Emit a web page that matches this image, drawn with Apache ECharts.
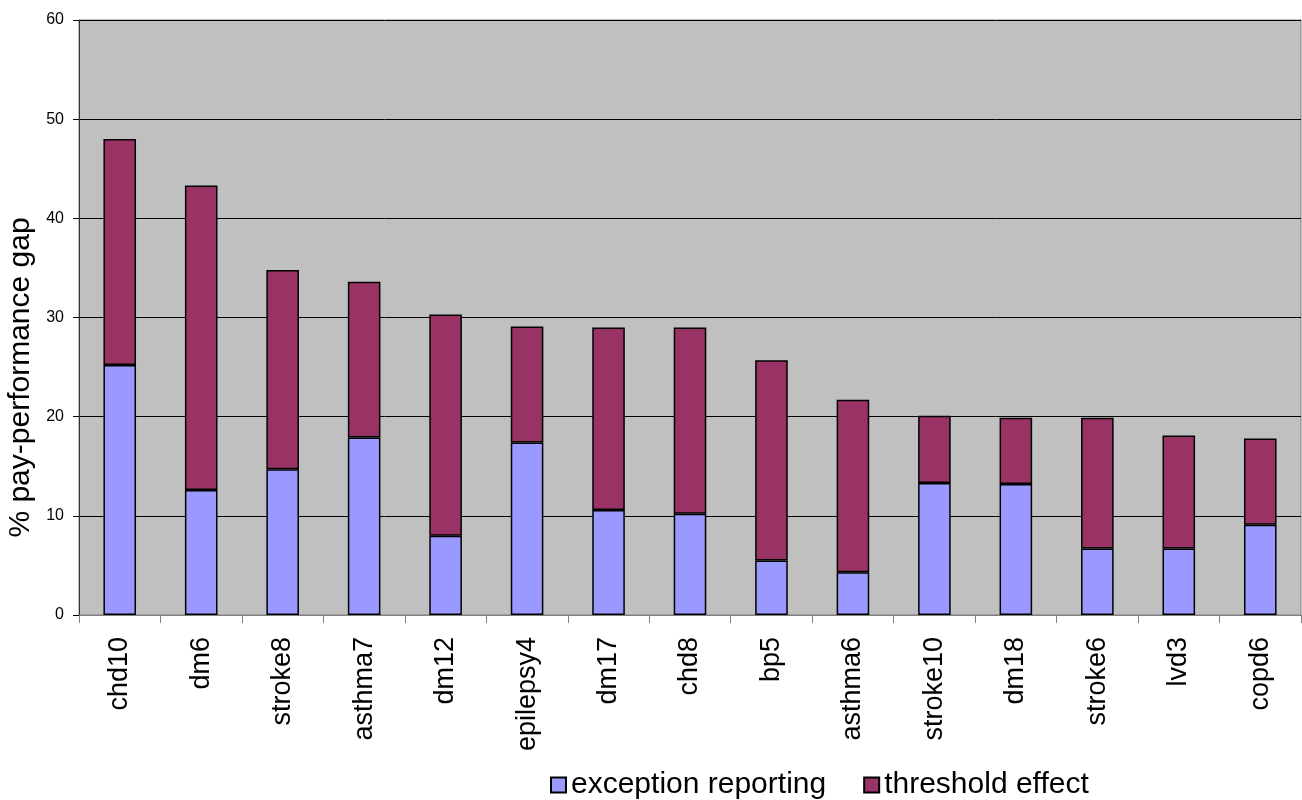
<!DOCTYPE html>
<html>
<head>
<meta charset="utf-8">
<script src="https://cdn.jsdelivr.net/npm/echarts@6/dist/echarts.min.js"></script>
<style>
  html, body { margin: 0; padding: 0; background: #fff; }
  #chart { width: 1302px; height: 800px; }
</style>
</head>
<body>
<div id="chart"></div>
<script>
var categories = ['chd10', 'dm6', 'stroke8', 'asthma7', 'dm12', 'epilepsy4', 'dm17', 'chd8', 'bp5', 'asthma6', 'stroke10', 'dm18', 'stroke6', 'lvd3', 'copd6'];
var exceptionReporting = [25.2, 12.6, 14.7, 17.9, 8.0, 17.4, 10.6, 10.2, 5.5, 4.3, 13.3, 13.2, 6.7, 6.7, 9.1];
var thresholdEffect = [22.8, 30.7, 20.1, 15.7, 22.3, 11.7, 18.4, 18.8, 20.2, 17.4, 6.8, 6.7, 13.2, 11.4, 8.7];
var yTicks = { min: 0, max: 60, interval: 10 };

var chart = echarts.init(document.getElementById('chart'));
var font = 'Liberation Sans, Arial, sans-serif';

var option = {
  backgroundColor: '#fff',
  animation: false,
  grid: {
    left: 79, right: 1, top: 20, bottom: 185,
    containLabel: false,
    outerBoundsMode: 'none',
    show: true,
    backgroundColor: '#c0c0c0',
    borderColor: '#808080',
    borderWidth: 1
  },
  legend: {
    top: 765,
    left: 545,
    icon: 'rect',
    itemWidth: 15,
    itemHeight: 15,
    itemGap: 37,
    textStyle: { fontSize: 30, color: '#000', fontFamily: font },
    data: ['exception reporting', 'threshold effect']
  },
  xAxis: {
    type: 'category',
    data: categories,
    axisLine: { lineStyle: { color: '#808080' } },
    axisTick: { show: true, length: 8, lineStyle: { color: '#808080' } },
    axisLabel: { rotate: 90, fontSize: 27, color: '#000', fontFamily: font, margin: 22 }
  },
  yAxis: {
    type: 'value',
    min: yTicks.min, max: yTicks.max, interval: yTicks.interval,
    name: '% pay-performance gap',
    nameLocation: 'middle',
    nameGap: 38,
    nameTextStyle: { fontSize: 30, color: '#000', fontFamily: font, padding: [0, 120, 0, 0] },
    axisLine: { show: true, lineStyle: { color: '#333' } },
    axisTick: { show: true, length: 6, lineStyle: { color: '#000' } },
    axisLabel: { fontSize: 16, color: '#000', fontFamily: font, margin: 15 },
    splitLine: { lineStyle: { color: '#000', width: 1 } }
  },
  series: [{
    name: 'exception reporting',
    type: 'bar',
    stack: 'gap',
    barWidth: '40%',
    data: exceptionReporting,
    itemStyle: { color: '#9999ff', borderColor: '#000', borderWidth: 1.5 }
  }, {
    name: 'threshold effect',
    type: 'bar',
    stack: 'gap',
    data: thresholdEffect,
    itemStyle: { color: '#993366', borderColor: '#000', borderWidth: 1.5 }
  }]
};
chart.setOption(option);
</script>
</body>
</html>
